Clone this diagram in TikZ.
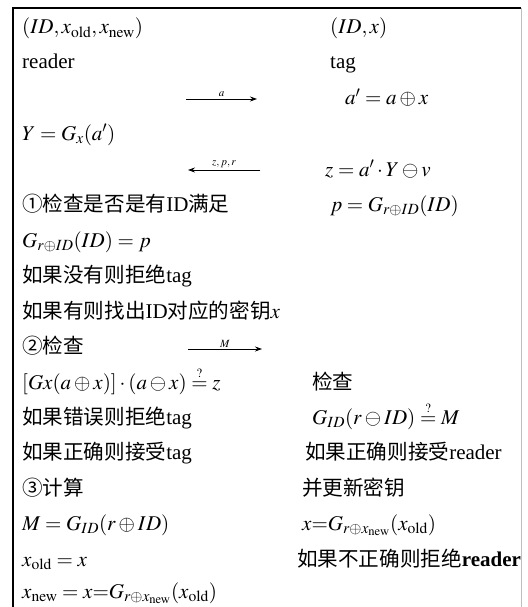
\documentclass[tikz,border=0pt]{standalone}
\usepackage{amsmath}
\usepackage{mathptmx}
\usepackage{fontspec}
\setmainfont{Liberation Serif}
\newfontfamily\cjk{Noto Sans CJK SC}[Scale=0.98]
\usetikzlibrary{arrows.meta,positioning}
\newcommand{\zh}[1]{{\cjk #1}}
\newcommand{\sub}[1]{_{\mathrm{#1}}}
\newcommand{\qeq}{\overset{\scriptscriptstyle ?}{=}}

\begin{document}
\begin{tikzpicture}[x=1pt, y=-1pt,
    every node/.style={font=\fontsize{21}{25}\selectfont},
    row/.style={anchor=base west, inner sep=0pt},
    msg/.style={-{Stealth[length=7pt, width=5pt]}, line width=0.8pt},
    lbl/.style={above, inner sep=1.5pt, font=\fontsize{11}{12}\selectfont}
  ]
    \useasboundingbox (0,0) rectangle (527,607);
    \draw[line width=1.6pt] (13,607) -- (13,8) -- (521,8);
    \draw[gray!50] (521,8) -- (521,607);

    % reader side
    \node[row] (rkeys) at (22,34) {$(ID, x\sub{old}, x\sub{new})$};
    \node[row] (reader) at (22,69) {reader};
    \node[row] (ygen) at (22,140) {$Y = G_x(a')$};
    \node[row] (chk1) at (22,211) {\zh{①检查是否是有}ID\zh{满足}};
    \node[row] (gp) at (22,247) {$G_{r\oplus ID}(ID) = p$};
    \node[row] (rej1) at (22,282) {\zh{如果没有则拒绝}tag};
    \node[row] (find) at (22,318) {\zh{如果有则找出}ID\zh{对应的密钥}$x$};
    \node[row] (chk2) at (22,353) {\zh{②检查}};
    \node[row] (verz) at (22,389) {$[Gx(a\oplus x)]\cdot(a\ominus x)\qeq z$};
    \node[row] (rej2) at (22,424) {\zh{如果错误则拒绝}tag};
    \node[row] (acc1) at (22,459) {\zh{如果正确则接受}tag};
    \node[row] (calc) at (22,495) {\zh{③计算}};
    \node[row] (mval) at (22,530) {$M = G_{ID}(r\oplus ID)$};
    \node[row] (xold) at (22,566) {$x\sub{old} = x$};
    \node[row] (xnew) at (22,598) {$x\sub{new} = x{=}G_{r\oplus x\sub{new}}(x\sub{old})$};

    % tag side
    \node[row] (tkeys) at (330,34) {$(ID, x)$};
    \node[row] (tag) at (330,69) {tag};
    \node[row] (aval) at (345,105) {$a' = a\oplus x$};
    \node[row] (zval) at (325,176) {$z = a'\cdot Y\ominus v$};
    \node[row] (pval) at (330,211) {$p = G_{r\oplus ID}(ID)$};
    \node[row] (chk3) at (312,389) {\zh{检查}};
    \node[row] (verm) at (312,424) {$G_{ID}(r\ominus ID)\qeq M$};
    \node[row] (acc2) at (305,459) {\zh{如果正确则接受}reader};
    \node[row] (upd) at (302,495) {\zh{并更新密钥}};
    \node[row] (xupd) at (302,530) {$x{=}G_{r\oplus x\sub{new}}(x\sub{old})$};
    \node[row] (rej3) at (297,566) {\zh{如果不正确则拒绝}\textbf{reader}};

    % messages
    \coordinate (m1s) at (186,99);
    \coordinate (m1e) at (257,99);
    \coordinate (m2s) at (260,170);
    \coordinate (m2e) at (188,170);
    \coordinate (m3s) at (188,349);
    \coordinate (m3e) at (262,349);
    \draw[msg] (m1s) -- node[lbl] {$a$} (m1e);
    \draw[msg] (m2s) -- node[lbl] {$z,p,r$} (m2e);
    \draw[msg] (m3s) -- node[lbl] {$M$} (m3e);
\end{tikzpicture}
\end{document}
